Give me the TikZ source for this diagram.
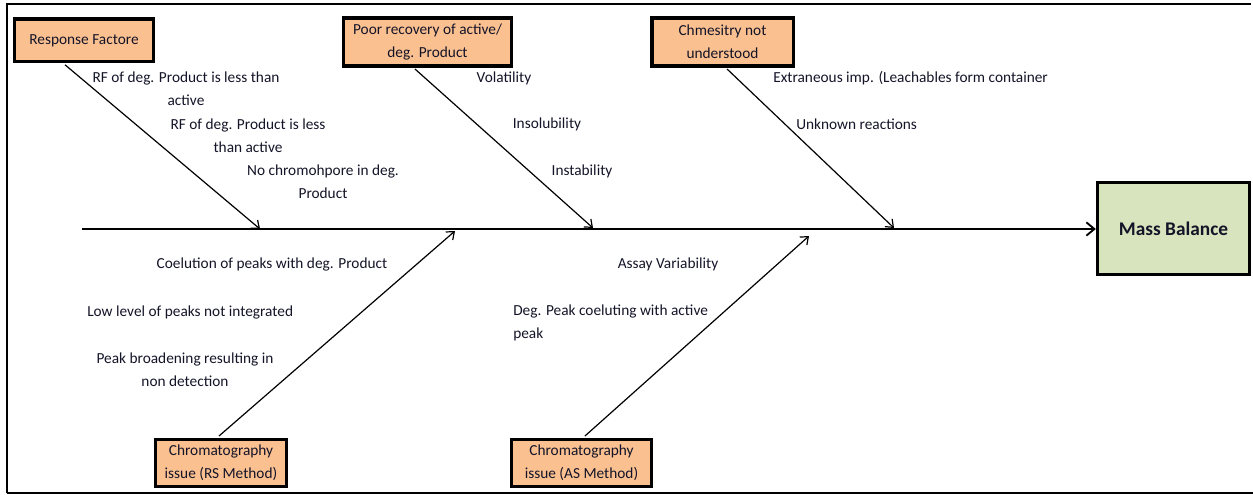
\documentclass[tikz,border=0pt]{standalone}
\usepackage{fontspec}
\setmainfont{Carlito}
\usetikzlibrary{arrows.meta}
\definecolor{boxorange}{RGB}{250,192,144}
\definecolor{boxgreen}{RGB}{215,228,189}
\definecolor{txt}{RGB}{20,20,40}
\begin{document}
\begin{tikzpicture}[x=0.75pt,y=-0.75pt,
  cause/.style={draw=black,line width=2.5pt,fill=boxorange,inner sep=0pt,align=center,text=txt,font=\fontsize{11.5}{17}\selectfont},
  effect/.style={draw=black,line width=2.5pt,fill=boxgreen,inner sep=0pt,align=center,text=txt,font=\fontsize{14.5}{17}\selectfont\bfseries},
  lbl/.style={inner sep=0pt,align=center,text=txt,font=\fontsize{11.5}{17}\selectfont},
  lbll/.style={inner sep=0pt,align=left,text=txt,font=\fontsize{11.5}{17}\selectfont},
  bone/.style={line width=0.9pt,-{Straight Barb[length=5pt,width=8pt]}},
  spine/.style={line width=1.4pt,-{Straight Barb[length=6pt,width=10pt]}},
  framel/.style={line width=2.2pt}]
\useasboundingbox (0,0) rectangle (1253,495);
% frame
\coordinate (f1) at (1251,4);
\coordinate (f2) at (7,4);
\coordinate (f3) at (7,493);
\coordinate (f4) at (1253,493);
\draw[framel] (f1) -- (f2) -- (f3);
\draw[line width=1.6pt] (f3) -- (f4);
% boxes
\node[cause,minimum width=104pt,minimum height=32pt] (rf) at (84,40.5) {Response Factore};
\node[cause,minimum width=126pt,minimum height=36pt] (poor) at (427.5,42) {Poor recovery of active/\\deg. Product};
\node[cause,minimum width=106pt,minimum height=36pt] (chem) at (722.5,42) {Chmesitry not\\understood};
\node[cause,minimum width=98pt,minimum height=35pt] (rs) at (221,463) {Chromatography\\issue (RS Method)};
\node[cause,minimum width=105pt,minimum height=35pt] (as) at (581.5,463) {Chromatography\\issue (AS Method)};
\node[effect,minimum width=114pt,minimum height=69pt] (mb) at (1173.5,228.5) {Mass Balance};
% spine
\coordinate (tail) at (82,229);
\draw[spine] (tail) -- (tail -| mb.west);
% bone end points
\coordinate (rfE) at (260,229);
\coordinate (poorE) at (593,228);
\coordinate (chemE) at (894,228);
\coordinate (rsE) at (455,231);
\coordinate (asE) at (809,236);
\draw[bone] ([xshift=-14.2pt,yshift=-1pt]rf.south) -- (rfE);
\draw[bone] ([xshift=-9.4pt,yshift=-1pt]poor.south) -- (poorE);
\draw[bone] ([xshift=3.4pt,yshift=-1pt]chem.south) -- (chemE);
\draw[bone] ([xshift=-1.5pt,yshift=1.5pt]rs.north) -- (rsE);
\draw[bone] ([xshift=2.6pt,yshift=1.5pt]as.north) -- (asE);
% labels
\node[lbl] (l1) at (186,89) {RF of deg. Product is less than\\active};
\node[lbl] (l2) at (248,136) {RF of deg. Product is less\\than active};
\node[lbl] (l3) at (323,181.5) {No chromohpore in deg.\\Product};
\node[lbl] (l4) at (504,78) {Volatility};
\node[lbl] (l5) at (547,124) {Insolubility};
\node[lbl] (l6) at (582,171) {Instability};
\node[lbl,anchor=west] (l7) at (773,78) {Extraneous imp. (Leachables form container};
\node[lbl,anchor=west] (l8) at (796,124) {Unknown reactions};
\node[lbl] (l9) at (272,264) {Coelution of peaks with deg. Product};
\node[lbl,anchor=west] (l10) at (87,312) {Low level of peaks not integrated};
\node[lbl] (l11) at (185,369.5) {Peak broadening resulting in\\non detection};
\node[lbl] (l12) at (668,264) {Assay Variability};
\node[lbll,anchor=west] (l13) at (513,323) {Deg. Peak coeluting with active\\peak};
\end{tikzpicture}
\end{document}
